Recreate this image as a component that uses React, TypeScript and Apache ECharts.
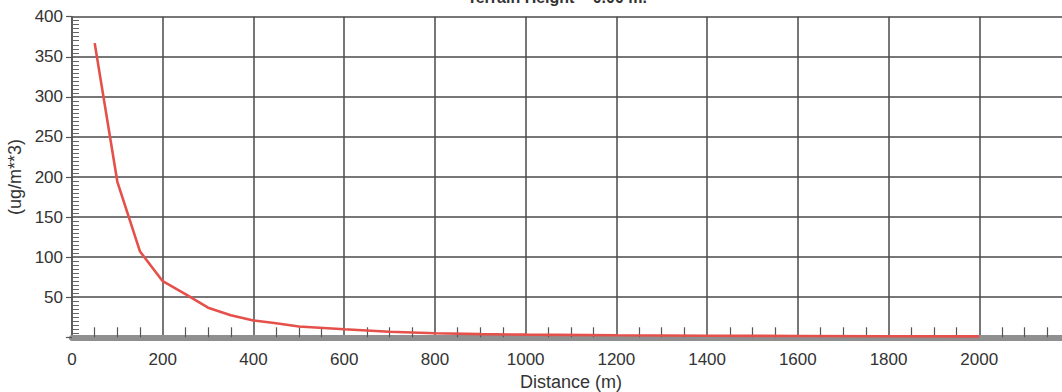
import React, { useEffect, useRef } from "react";
import * as echarts from "echarts";

const titleText = "Terrain Height = 0.00 m.";
const xAxisName = "Distance (m)";
const yAxisName = "(ug/m**3)";
const distances = [50, 100, 150, 200, 250, 300, 350, 400, 450, 500, 600, 700, 800, 900, 1000, 1200, 1400, 1600, 1800, 2000];
const concentrations = [367, 194, 107, 70, 54, 37, 27.5, 21, 17.5, 13.5, 10, 7, 5, 4, 3.3, 2.5, 2, 1.6, 1.3, 1.1];
const xLabelValues = [0, 200, 400, 600, 800, 1000, 1200, 1400, 1600, 1800, 2000];

export default function App() {
  const ref = useRef<HTMLDivElement>(null);
  useEffect(() => {
    const chart = echarts.init(ref.current!, null, { renderer: "svg" });
    const font = "Liberation Sans, Arial, sans-serif";
    const gridColor = "#4a4a4a";
    chart.setOption({
      animation: false,
      backgroundColor: "#ffffff",
      graphic: [
        {
          type: "text",
          x: 557,
          y: -3,
          style: {
            text: titleText,
            font: `bold 16px ${font}`,
            fill: "#333",
            textAlign: "center",
            textVerticalAlign: "middle",
          },
        },
      ],
      grid: {
        left: 72,
        top: 16.7,
        width: 998,
        bottom: 54.7,
        containLabel: false,
        outerBoundsMode: "none",
      },
      xAxis: {
        type: "value",
        min: 0,
        max: 2200,
        interval: 200,
        offset: 4,
        name: xAxisName,
        nameLocation: "middle",
        nameGap: 32,
        nameTextStyle: { fontFamily: font, fontSize: 18, color: "#333" },
        axisLine: { show: true, lineStyle: { color: "#8f8f8f", width: 6 } },
        axisTick: { show: false, inside: true },
        minorTick: { show: true, splitNumber: 4, length: 10, lineStyle: { color: "#555", width: 1.2 } },
        axisLabel: {
          margin: 10,
          fontFamily: font,
          fontSize: 17,
          color: "#333",
          formatter: (v: number) => (xLabelValues.includes(v) ? String(v) : ""),
        },
        splitLine: { show: true, lineStyle: { color: gridColor, width: 1.5 } },
      },
      yAxis: [
        {
          type: "value",
          min: 0,
          max: 400,
          interval: 50,
          name: yAxisName,
          nameLocation: "middle",
          nameRotate: 90,
          nameGap: 46,
          nameTextStyle: { fontFamily: font, fontSize: 18, color: "#333" },
          axisLine: { show: true, lineStyle: { color: "#555", width: 1.5 } },
          axisTick: { show: true, length: 6, lineStyle: { color: "#555", width: 1.2 } },
          axisLabel: {
            margin: 9,
            fontFamily: font,
            fontSize: 17,
            color: "#333",
            formatter: (v: number) => (v === 0 ? "" : String(v)),
          },
          splitLine: { show: true, lineStyle: { color: gridColor, width: 1.5 } },
        },
        {
          type: "value",
          min: 0,
          max: 400,
          interval: 50,
          position: "left",
          axisLine: { show: false },
          axisTick: { show: false, inside: true },
          minorTick: { show: true, splitNumber: 10, length: 7, lineStyle: { color: "#666", width: 1 } },
          axisLabel: { show: false },
          splitLine: { show: false },
        },
      ],
      series: [
        {
          type: "line",
          yAxisIndex: 0,
          data: distances.map((d, i) => [d, concentrations[i]]),
          showSymbol: false,
          symbol: "none",
          lineStyle: { color: "#e5504a", width: 2.6 },
          z: 5,
        },
      ],
    });
    return () => chart.dispose();
  }, []);
  return (
    <div
      ref={ref}
      style={{ position: "fixed", left: 0, top: 0, width: 1062, height: 392, overflow: "hidden" }}
    />
  );
}
